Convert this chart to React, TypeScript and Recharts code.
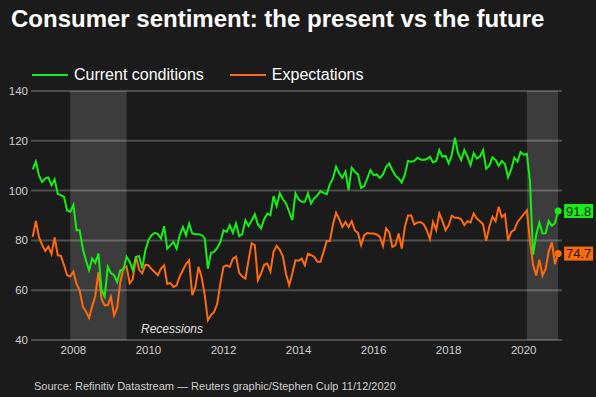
import React from 'react';
import { LineChart, Line, XAxis, YAxis, CartesianGrid, ReferenceArea } from 'recharts';

// monthly, Dec 2006 .. Dec 2020 (last point = Dec preliminary)
const currentConditions = [
  108.5,
  111.6, 106, 103.5, 104.9, 105.3, 102.2, 104.5, 98.6, 98.2, 97.5, 92, 91.5,
  94.2, 84.1, 84.1, 76.7, 72, 68, 72.7, 71, 74.7, 60, 57.5, 69.4,
  66.9, 66, 63.3, 68, 68.3, 73.4, 71.4, 68, 73.4, 73.7, 68.7, 76,
  80.1, 82.1, 83, 82.5, 80.8, 85.7, 76.7, 78, 79.4, 76.7, 82.1, 85.4,
  82.1, 86.8, 82.8, 82.5, 82.5, 82.1, 80.8, 68.7, 75, 75.4, 77, 79.4,
  84.1, 83.4, 86.1, 83, 86.8, 81.7, 82.5, 88.1, 85.8, 88, 90.5, 86.5,
  84.8, 88.5, 90.8, 90.1, 97.8, 93.8, 98.9, 96.5, 94.8, 91.5, 88.1, 98.9,
  96.5, 95.5, 95.5, 98.9, 94.8, 96.9, 98, 99.8, 99.1, 98.6, 102.5, 104.9,
  109.6, 106.9, 105.1, 107.6, 100.2, 109.2, 107.5, 106.5, 101.1, 101.8, 105, 108.2,
  106.2, 106.5, 105.1, 106.5, 109.6, 110.9, 108.2, 106, 104.9, 103.3, 106.5, 111.9,
  111.6, 111.9, 113.2, 112.5, 112.3, 112.7, 113.6, 111.3, 111.9, 116.3, 113.6, 114,
  110.9, 114.3, 121.2, 115, 112.3, 116.3, 113.6, 110.2, 115, 112.9, 113.6, 116.3,
  108.8, 110, 113.3, 112.3, 110, 111.9, 110.7, 105.3, 108.5, 113.2, 111.6, 115.5,
  114.4, 114.8, 103.7, 74.3, 82.3, 87.1, 82.8, 82.9, 87.8, 85.9, 87, 91.8,
];

const expectations = [
  81.4,
  87.8, 81.3, 78.2, 75.8, 77.5, 74.5, 81.2, 74, 73.8, 70, 66, 65.5,
  67.5, 62.5, 60, 53.5, 51.5, 48.9, 53.5, 57.7, 67.3, 56.5, 54, 54,
  57.4, 49.8, 53, 63.2, 69, 69.5, 62.8, 64.5, 73.5, 68.3, 66.8, 70.2,
  70, 68.5, 67.3, 66, 68.7, 70, 62.5, 62.9, 61.3, 62, 65.5, 68,
  70.5, 72, 58, 61.3, 69.4, 65.3, 58, 47.9, 50, 51.3, 54.6, 62.7,
  69.4, 70, 69.4, 72.7, 73.5, 67, 65.5, 64.7, 72, 78.8, 78.1, 64,
  66.7, 70.2, 70.7, 67.5, 75.4, 77.8, 76.2, 73.5, 66.5, 62, 66.7, 72,
  71.8, 72.7, 70, 74.7, 74.1, 73.4, 71.4, 71.4, 75.4, 79.8, 79.8, 86.4,
  91.1, 88.5, 85.4, 87.4, 85.4, 87.7, 84, 83, 78.1, 82.1, 83, 82.8,
  82.8, 82.4, 81.4, 77.8, 84.8, 83.2, 77.4, 78.1, 82.8, 76.7, 85.5, 90,
  90, 86.4, 87.2, 87.4, 86.5, 84.1, 80.5, 87.4, 84.1, 90.8, 87.8, 84.1,
  86.1, 89.9, 89.1, 89.1, 88.5, 86.1, 87.7, 87.2, 90.8, 88.8, 87.7, 86.5,
  79.8, 85.5, 89.5, 87.7, 93.5, 89.3, 90.5, 79.9, 83.4, 84.2, 87.3, 88.9,
  90.5, 92.1, 79.7, 70.1, 65.9, 72.3, 65.9, 68.5, 75.6, 79.2, 70.5, 74.7,
];

const yearTicks = [2008, 2010, 2012, 2014, 2016, 2018, 2020];
const valueTicks = [40, 60, 80, 100, 120, 140];
// recessions as [start, end] in fractional years
const recessions = [
  [2007 + 11 / 12, 2009 + 5 / 12],
  [2020 + 1 / 12, 2020 + 11 / 12],
];

const START = 2006 + 11 / 12;
const data = currentConditions.map((c, i) => ({
  t: START + i / 12,
  current: c,
  expectations: expectations[i],
}));

const GREEN = '#14f014';
const ORANGE = '#ff6a0d';
const FONT = '"Liberation Sans", Arial, sans-serif';

const endDot = (color: string) => (props: any) => {
  const { cx, cy, index, value } = props;
  if (index !== data.length - 1) return <g key={`d${index}`} />;
  return (
    <g key={`d${index}`}>
      <circle cx={cx} cy={cy} r={3.5} fill={color} />
      <rect x={cx + 6} y={cy - 7} width={29} height={14} fill={color} />
      <text x={cx + 20.5} y={cy + 4.5} textAnchor="middle" fontSize={13} fill="#1a1a1a" fontFamily={FONT}>
        {value.toFixed(1)}
      </text>
    </g>
  );
};

export default function App() {
  return (
    <div style={{ position: 'fixed', left: 0, top: 0, width: 596, height: 397, background: '#1b1b1b', fontFamily: FONT, overflow: 'hidden' }}>
      <div style={{ position: 'absolute', left: 11, top: 4, fontSize: 24, fontWeight: 'bold', color: '#fff', lineHeight: '30px' }}>
        Consumer sentiment: the present vs the future
      </div>

      <div style={{ position: 'absolute', left: 32, top: 66, height: 18, display: 'flex', alignItems: 'center', fontSize: 16, color: '#fff' }}>
        <span style={{ width: 36, height: 2, background: GREEN, marginRight: 6 }} />
        <span>Current conditions</span>
        <span style={{ width: 36, height: 2, background: ORANGE, marginLeft: 26, marginRight: 6 }} />
        <span>Expectations</span>
      </div>

      <div style={{ position: 'absolute', left: 0, top: 0 }}>
        <LineChart width={596} height={397} data={data} margin={{ top: 91, right: 34, bottom: 27, left: 0 }}>
          <CartesianGrid vertical={false} stroke="#4e4e4e" strokeWidth={2} />
          {recessions.map(([a, b], i) => (
            <ReferenceArea key={i} x1={a} x2={b} fill="#ffffff" fillOpacity={0.15} stroke="none" ifOverflow="visible" />
          ))}
          <XAxis
            dataKey="t"
            type="number"
            domain={[2006.87, 2021.02]}
            ticks={yearTicks}
            tickFormatter={(v) => String(v)}
            axisLine={false}
            tickLine={false}
            tickSize={0}
            tickMargin={6}
            height={30}
            tick={{ fill: '#d0d0d0', fontSize: 11.5, fontFamily: FONT }}
          />
          <YAxis
            domain={[40, 140]}
            ticks={valueTicks}
            axisLine={false}
            tickLine={false}
            tickSize={0}
            tickMargin={3}
            width={31}
            tick={{ fill: '#d0d0d0', fontSize: 11.5, fontFamily: FONT }}
          />
          <Line
            dataKey="expectations"
            type="linear"
            stroke={ORANGE}
            strokeWidth={2}
            dot={endDot(ORANGE)}
            activeDot={false}
            isAnimationActive={false}
          />
          <Line
            dataKey="current"
            type="linear"
            stroke={GREEN}
            strokeWidth={2}
            dot={endDot(GREEN)}
            activeDot={false}
            isAnimationActive={false}
          />
        </LineChart>
      </div>

      <div style={{ position: 'absolute', left: 141, top: 322, fontSize: 12, fontStyle: 'italic', color: '#e0e0e0' }}>
        Recessions
      </div>

      <div style={{ position: 'absolute', left: 34, top: 380, fontSize: 11, color: '#d0d0d0' }}>
        Source: Refinitiv Datastream — Reuters graphic/Stephen Culp 11/12/2020
      </div>
    </div>
  );
}
